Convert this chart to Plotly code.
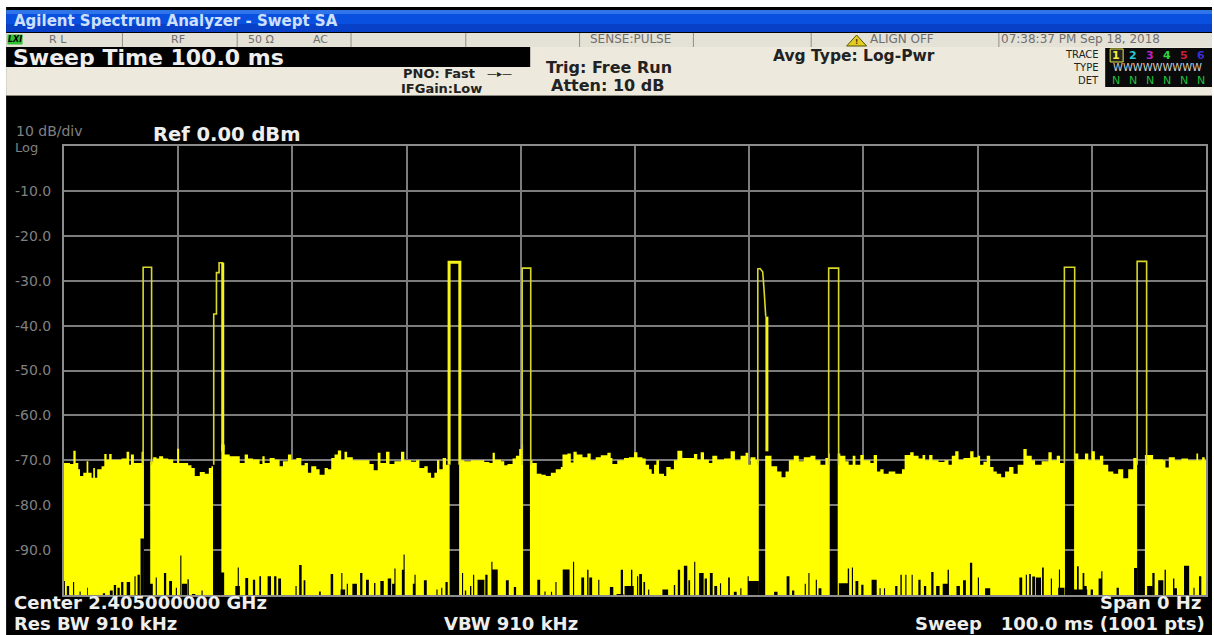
import plotly.graph_objects as go

# ---- Data: sweep time (ms) and level (dBm) ----
seg1_ms = [0,.52,.82,1.02,1.25,1.4,1.69,1.98,2.13,2.42,2.56,2.71,2.91,3.29,3.53,3.73,3.96,4.17,4.6,5.04,5.48,5.71,5.86,6.12,6.5,6.79,7.0]
seg1_db = [-70.6,-70.8,-67.9,-70.6,-72,-73.5,-72.8,-70.2,-72.8,-73.9,-71.7,-73.9,-72,-71.3,-68.6,-69.9,-68.6,-69.9,-69.9,-69.6,-68.1,-71,-68.7,-70.6,-70.6,-68.1,-68.1]
seg2_ms = [7.55,7.81,8.1,8.33,8.68,9.12,9.56,9.91,10.08,10.58,10.87,11.16,11.45,11.89,12.33,12.68,12.91,13.05]
seg2_db = [-70.2,-69.3,-69.6,-69.1,-69.6,-69.8,-70.6,-67.4,-70.6,-70.6,-71.1,-71.7,-73.5,-72.6,-73,-71.7,-71.3,-68.5]
seg3_ms = [13.78,14.07,14.51,14.95,15.39,15.82,16.11,16.55,17.13,17.37,17.57,18.01,18.45,18.88,19.17,19.61,19.9,20.34,20.78,21.07,21.36,21.65,22.09,22.38,22.82,23.11,23.4,23.69,23.98,24.27,24.56,24.79,25.29,25.73,26.31,26.75,27.12,27.47,27.71,28.2,28.5,28.93,29.51,29.8,30.39,30.83,31.12,31.55,31.85,32.14,32.43,32.66,32.87,33.16,33.45,33.77]
seg3_db = [-66.5,-68.7,-69.1,-69.1,-70.6,-68.7,-69.6,-69.8,-70.8,-69.1,-70.6,-69.5,-69.9,-71.3,-70.2,-68.7,-69.9,-69.5,-71.1,-70.6,-72.8,-71.3,-72,-73.2,-71.7,-72,-69.5,-68.7,-67.8,-69.9,-68.1,-69.3,-70,-70,-70,-70.8,-72.2,-68.3,-70.6,-68.1,-70.8,-70.2,-68.1,-70,-70.3,-70,-71.7,-71.3,-72.8,-73.9,-72.8,-70,-72,-69.5,-71,-71]
seg4_ms = [34.6,35.05,35.63,36.22,36.8,37.24,37.53,37.73,38.26,38.55,38.84,39.28,39.57,39.86,40.09,40.2]
seg4_db = [-70,-70.2,-70,-70,-70.4,-70.6,-68.3,-69.9,-70.2,-71.1,-70.8,-69.6,-69,-67.5,-66.5,-66.5]
seg5_ms = [40.8,41.02,41.4,41.81,42.19,42.63,43.06,43.5,43.65,44.08,44.38,44.61,44.9,45.4,45.83,46.12,46.56,47,47.58,47.87,48.02,48.45,49.04,49.47,49.92,50.21,50.65,50.94,51.23,51.46,51.67,51.87,52.1,52.54,52.74,53.12,53.41,53.71,54.14,54.58,55.16,55.45,55.75,56.04,56.47,56.77,57.2,57.79,58.37,58.75,59.24,59.68,59.91,60.12,60.55,60.84]
seg5_db = [-70,-70.6,-73,-73.2,-73.5,-72.8,-72,-71.5,-68.7,-68.5,-70.5,-68.1,-68.7,-69.3,-68.5,-70,-69.3,-68.9,-68.3,-69.5,-70.8,-70,-69.5,-69.3,-68.2,-69.3,-69.6,-71,-72,-73,-71,-70,-73,-73.5,-71.5,-72,-70,-67.9,-69.5,-69.5,-68.6,-69.9,-68.2,-69.9,-70.6,-69,-69.9,-69.6,-68,-70,-69,-68.3,-71,-69.3,-69.9,-69.9]
seg6_ms = [61.4,61.57,61.95,62.45,62.83,63.18,63.47,63.9,64.34,64.78,65.36,65.8,66.24,66.67,66.96,67.05]
seg6_db = [-69,-69,-71.3,-72.5,-73.8,-72.5,-70,-69,-70.2,-69.3,-69,-70,-71,-69.5,-68.5,-68.5]
seg7_ms = [67.75,67.98,68.42,68.71,69.06,69.3,69.73,70.02,70.61,70.9,71.19,71.48,71.77,72.21,72.79,73.38,73.61,74.1,74.4,74.83,75.18,75.41,75.76,76.05,76.58,77.1,77.45,77.74,78.04,78.33,78.76,79.35,79.64,80.02,80.22,80.51,80.8,81.1,81.39,81.68,82.06,82.41,82.76,83.14,83.51,84.01,84.3,84.74,85.03,85.61,86.2,86.49,86.93,87.22,87.65]
seg7_db = [-68.5,-69,-70.2,-71,-69,-71,-68.8,-70,-70.6,-68.8,-72.5,-72,-73,-72.5,-73,-72,-68.8,-68.2,-69,-69.6,-68.8,-70,-68.8,-70,-70.4,-70,-71,-69,-68,-69.9,-69.5,-68,-69.3,-69,-71,-70.3,-69,-71.5,-72.5,-73,-73.8,-72.5,-71.5,-73,-71,-67.5,-69,-70,-71,-70.2,-68.2,-70,-69,-70.6,-69.6]
seg8_ms = [88.45,88.82,89.4,89.69,89.98,90.27,90.71,91,91.44,91.88,92.31,92.75,93.19,93.63,93.97]
seg8_db = [-68.5,-69.8,-68.5,-70,-68,-70,-69,-71,-72.5,-73,-72,-74,-72,-69.5,-69.5]
seg9_ms = [94.65,94.94,95.37,96.25,96.45,96.74,97.27,97.85,98.43,99.16,99.31,99.66,99.89,100]
seg9_db = [-68.8,-68.8,-69.8,-70,-71.6,-69.3,-70,-69.6,-70,-68.5,-70,-69.3,-70,-70]

# Downward drop-outs of the trace
dip_ms = [.03,.35,.84,1.41,2.05,3.5,4.14,4.46,4.78,5.1,5.64,6.22,6.54,6.85,7.65,8.08,8.85,9.33,9.84,10.23,10.55,10.87,11.35,12.09,13.85,15.26,15.2,16,16.64,17.18,17.98,18.5,18.88,20.32,20.7,21.06,22.41,23.46,24.33,24.42,24.81,25.45,26.03,26.57,27.21,27.85,28.5,28.98,28.88,29.78,29.71,30.74,30.67,31.64,32.66,33.08,33.5,34.9,35.16,35.61,35.87,36.51,36.99,37.47,37.73,38.82,39.49,41.57,42.12,42.69,43.08,43.97,44.62,45.42,45.87,46.12,46.83,47.95,48.85,48.69,49.49,49.71,
          50.23,50.49,50.81,51.2,52.65,53.46,53.85,54.43,54.75,55.23,55.81,56.2,56.68,57.07,57.49,58.23,58.78,59.27,59.91,60.4,62.33,63.4,63.85,64.91,65.23,65.88,66.2,68.3,68.69,69.04,69.43,69.91,70.94,71.46,71.85,72.88,73.3,73.72,74.27,74.91,75.4,76.04,76.52,77.43,77.17,78.3,78.85,79.43,80.07,80.88,83.78,84.27,84.59,84.91,85.33,85.72,86.46,87.17,87.33,89,88.78,89.27,89.43,90,90.72,90.88,92.27,93.85,95.07,95.4,96.04,96.43,97.17,97.33,98.3,98.95,99.49]
dip_db = [-96.9,-98,-97.1,-99.2,-98.4,-99.6,-99,-97.8,-98.4,-97.1,-97.1,-95.8,-95.5,-87.4,-97.5,-96.1,-95.1,-96.9,-98.4,-91.2,-97.5,-96.5,-99.8,-99,-95,-93.9,-98,-96.2,-96.6,-95.8,-95.8,-95.8,-96.3,-98,-93.3,-96.7,-99.2,-95.3,-95.1,-98.8,-97.5,-97.5,-95.1,-96.6,-97.3,-96.9,-96.3,-94.1,-97.5,-91,-94.4,-95.5,-97.5,-96.7,-98.8,-98.4,-97.1,-95.1,-99,-98,-95.5,-96.6,-95.5,-92.6,-94.3,-96.7,-98.2,-96.6,-99.2,-99.3,-97.1,-94.3,-92.6,-96.1,-94.4,-96.1,-96.6,-98.2,-94.4,-99.8,-98,-94.4,
          -95.8,-95.3,-97.1,-98.8,-98.8,-97.8,-94.4,-93.5,-96.7,-92.6,-95.1,-96.3,-95.1,-98,-97.4,-96.1,-99.3,-98.5,-95.8,-96.9,-99.3,-95.8,-99,-97.5,-95.1,-96.6,-98.5,-97.4,-94.1,-93.9,-96.9,-97.7,-96.6,-98.5,-98.5,-98,-95.5,-95.5,-95.5,-96.6,-98,-94.9,-98,-94.4,-97.5,-98,-96.7,-92.8,-96.1,-98.5,-96.1,-95.5,-95.3,-95.9,-96.1,-93.9,-96.3,-94.3,-98.4,-98.8,-93.6,-95.1,-98,-98.8,-96.3,-94.7,-98.4,-94,-98,-95.1,-96.7,-94.4,-96.3,-98.5,-93.5,-98.4,-95.8]
dip_width = [.1,.2,.1,.1,.07,.2,.25,.2,.2,.2,.3,.1,.2,.3,.25,.1,.2,.25,.1,.1,.45,.12,.3,.1,.35,.1,.4,.25,.2,.15,.3,.2,.25,.1,.22,.15,.15,.22,.1,.4,.1,.4,.2,.25,.12,.3,.3,.1,.3,.1,.25,.1,.25,.25,.1,.1,.2,.1,.12,.12,.1,.6,.2,.1,.5,.25,.2,.25,.1,.1,.1,.6,.1,.25,.12,.25,.1,.3,.2,.6,.8,.12,
             .1,.25,.15,.1,.5,.12,.2,.3,.15,.1,.4,.2,.25,.25,.1,.15,.25,.1,.1,.9,.3,.25,.2,.1,.1,.1,.25,.9,.12,.1,.25,.2,.45,.1,.1,.2,.12,.1,.1,.2,.2,.2,.3,.12,.45,.3,.25,.2,.1,.45,.25,.1,.15,.25,.45,.15,.1,.1,.55,1.2,.15,.15,.25,.2,.25,.1,.2,.3,.45,.2,.45,.12,.12,.25,.45,.1,.2]

# Pulse outlines above the noise floor
pulse_thin_ms = [6.93,6.93,7.67,7.67,None,13.11,13.11,13.35,13.35,13.58,13.58,13.94,None,40.12,40.12,40.87,40.87,None,60.75,60.75,60.95,61.18,61.3,61.4,61.45,None,66.96,66.96,67.83,67.83,None,87.6,87.6,88.5,88.5,None,93.97,93.97,94.8,94.8]
pulse_thin_db = [-71,-27,-27,-71,None,-71,-37.4,-37.4,-28.2,-28.2,-26,-26,None,-71,-27.2,-27.2,-71,None,-71,-27.4,-27.3,-28,-32,-36,-38,None,-71,-27.2,-27.2,-71,None,-71,-27,-27,-71,None,-71,-25.7,-25.7,-71]
pulse_thick_ms = [13.9,13.9,None,33.72,33.72,34.66,34.66,None,61.55,61.55]
pulse_thick_db = [-26,-68,None,-71,-25.9,-25.9,-71,None,-38,-68]

y_ticks = [-10,-20,-30,-40,-50,-60,-70,-80,-90]
y_labels = ["-10.0","-20.0","-30.0","-40.0","-50.0","-60.0","-70.0","-80.0","-90.0"]
trace_digits = ["1","2","3","4","5","6"]
trace_colors = ["#f2f23c","#28c8d8","#c020c0","#30d040","#c81e3c","#3c2ed8"]

W, H = 1214, 635
L, R, T, B = 64, 1208, 146, 595
px = lambda v: (v - L) / (R - L)
py = lambda v: (B - v) / (B - T)

segments = [(seg1_ms,seg1_db),(seg2_ms,seg2_db),(seg3_ms,seg3_db),(seg4_ms,seg4_db),(seg5_ms,seg5_db),
            (seg6_ms,seg6_db),(seg7_ms,seg7_db),(seg8_ms,seg8_db),(seg9_ms,seg9_db)]

fig = go.Figure()
for t, v in segments:
    fig.add_trace(go.Scatter(x=t + [t[-1], t[0]], y=v + [-100, -100], mode="lines", fill="toself",
                             fillcolor="#ffff00", line=dict(width=0, shape="hv", color="#ffff00"), hoverinfo="skip"))
dip_x, dip_y = [], []
for c, d, w in zip(dip_ms, dip_db, dip_width):
    dip_x += [c - w / 2, c - w / 2, c + w / 2, c + w / 2, None]
    dip_y += [-100, d, d, -100, None]
fig.add_trace(go.Scatter(x=dip_x, y=dip_y, mode="lines", fill="toself", fillcolor="#000000",
                         line=dict(width=0, color="#000000"), hoverinfo="skip"))
fig.add_trace(go.Scatter(x=pulse_thin_ms, y=pulse_thin_db, mode="lines", line=dict(color="#d8d82a", width=1.6), hoverinfo="skip"))
fig.add_trace(go.Scatter(x=pulse_thick_ms, y=pulse_thick_db, mode="lines", line=dict(color="#f4f41a", width=3), hoverinfo="skip"))

def rect(x0, y0, x1, y1, color, line=None):
    return dict(type="rect", xref="paper", yref="paper", x0=px(x0), x1=px(x1), y0=py(y0), y1=py(y1),
                fillcolor=color, line=dict(width=0) if line is None else dict(color=line, width=1), layer="below")

shapes = [
    rect(6, 7, 1214, 635, "#000000"),
    rect(6, 10, 1214, 14, "#2f74e8"),
    rect(6, 14, 1214, 24, "#0a50e0"),
    rect(6, 24, 1214, 32, "#0840c8"),
    rect(6, 33, 1214, 47, "#e4e1d6"),
    rect(6, 47, 1214, 95, "#eee9dd"),
    rect(6, 95, 1214, 96, "#8a8a80"),
    rect(6, 47, 531, 67, "#000000"),
    rect(1107, 48, 1214, 87, "#0a0a0a"),
    rect(1112, 49, 1125, 62, "#222222", "#e8e84a"),
    dict(type="path", xref="paper", yref="paper", layer="below", fillcolor="#e4cc20", line=dict(color="#555500", width=1),
         path=f"M {px(848)} {py(46)} L {px(858)} {py(35)} L {px(868)} {py(46)} Z"),
]
for sx in [122, 237, 351, 466, 580, 694, 812, 1000]:
    shapes.append(rect(sx, 33, sx + 1, 47, "#8f8f88"))

def note(x, y, text, size, color, bold=False, anchor="left"):
    fig.add_annotation(xref="paper", yref="paper", x=px(x), y=py(y), text=f"<b>{text}</b>" if bold else text,
                       showarrow=False, xanchor=anchor, yanchor="middle", align=anchor,
                       font=dict(family="DejaVu Sans", size=size, color=color), borderpad=0)

dark = "#222222"; grey = "#6e6e6e"; white = "#eeeeee"
note(13, 21, "Agilent Spectrum Analyzer - Swept SA", 15, "#cfe0ff", True)
fig.add_annotation(xref="paper", yref="paper", x=px(7), y=py(39), text="<b><i>LXI</i></b>", showarrow=False, xanchor="left", yanchor="middle",
                   bgcolor="#30c030", font=dict(family="DejaVu Sans", size=8, color="#000000"), borderpad=0)
note(48, 39, "R L", 11, grey)
note(170, 39, "RF", 11, grey)
note(247, 39, "50 Ω", 11, grey)
note(312, 39, "AC", 11, grey)
note(590, 39, "SENSE:PULSE", 12, grey)
note(870, 39, "ALIGN OFF", 12, grey)
note(1002, 39, "07:38:37 PM Sep 18, 2018", 12, grey)
note(858, 42, "<b>!</b>", 7, "#333300", anchor="center")
note(12, 58, "Sweep Time 100.0 ms", 22, white, True)
note(477, 73, "PNO: Fast", 13, dark, True, "right")
note(500, 73, "—▸—", 10, dark, False, "center")
note(484, 88.5, "IFGain:Low", 13, dark, True, "right")
note(546, 67, "Trig: Free Run", 16, dark, True)
note(551, 86, "Atten: 10 dB", 16, dark, True)
note(773, 56, "Avg Type: Log-Pwr", 15.5, dark, True)
note(1102, 54, "TRACE", 10, dark, False, "right")
note(1102, 67, "TYPE", 10, dark, False, "right")
note(1102, 81, "DET", 10, dark, False, "right")
for i, (d, c) in enumerate(zip(trace_digits, trace_colors)):
    note(1118 + i * 17, 55, f"<b>{d}</b>", 11, c, False, "center")
    note(1118 + i * 17, 81, "N", 11, "#20c040", False, "center")
note(1159, 67, "WWWWWWWWW", 10, "#d0d0d0", False, "center")
note(15, 131, "10 dB/div", 14, "#808080")
note(14, 147.5, "Log", 13, "#808080")
note(152, 134, "Ref 0.00 dBm", 19.5, white, True)
note(13, 602, "Center 2.405000000 GHz", 18, white, True)
note(1204, 602, "Span 0 Hz", 18, white, True, "right")
note(13, 623.5, "Res BW 910 kHz", 18, white, True)
note(444, 623.5, "VBW 910 kHz", 18, white, True)
note(1208, 623.5, "Sweep&nbsp;&nbsp;&nbsp;100.0 ms (1001 pts)", 18, white, True, "right")

grid = dict(showgrid=True, gridcolor="#7c7c7c", gridwidth=1.5, zeroline=False, showline=True, linecolor="#8c8c8c", linewidth=2, mirror=True)
fig.update_layout(
    width=W, height=H, margin=dict(l=L, r=W - R, t=T, b=H - B, pad=0),
    paper_bgcolor="#ffffff", plot_bgcolor="#000000", showlegend=False, hovermode=False,
    shapes=shapes,
    xaxis=dict(range=[0, 100], tickvals=[10,20,30,40,50,60,70,80,90], showticklabels=False, ticks="", **grid),
    yaxis=dict(range=[-100, 0], tickvals=y_ticks, ticktext=y_labels, ticks="", ticklabelstandoff=8,
               tickfont=dict(family="DejaVu Sans", size=14, color="#808080"), **grid),
)
fig.write_html("out.html", config={"displayModeBar": False},
               post_script="document.body.style.margin='0';document.body.style.overflow='hidden';")
